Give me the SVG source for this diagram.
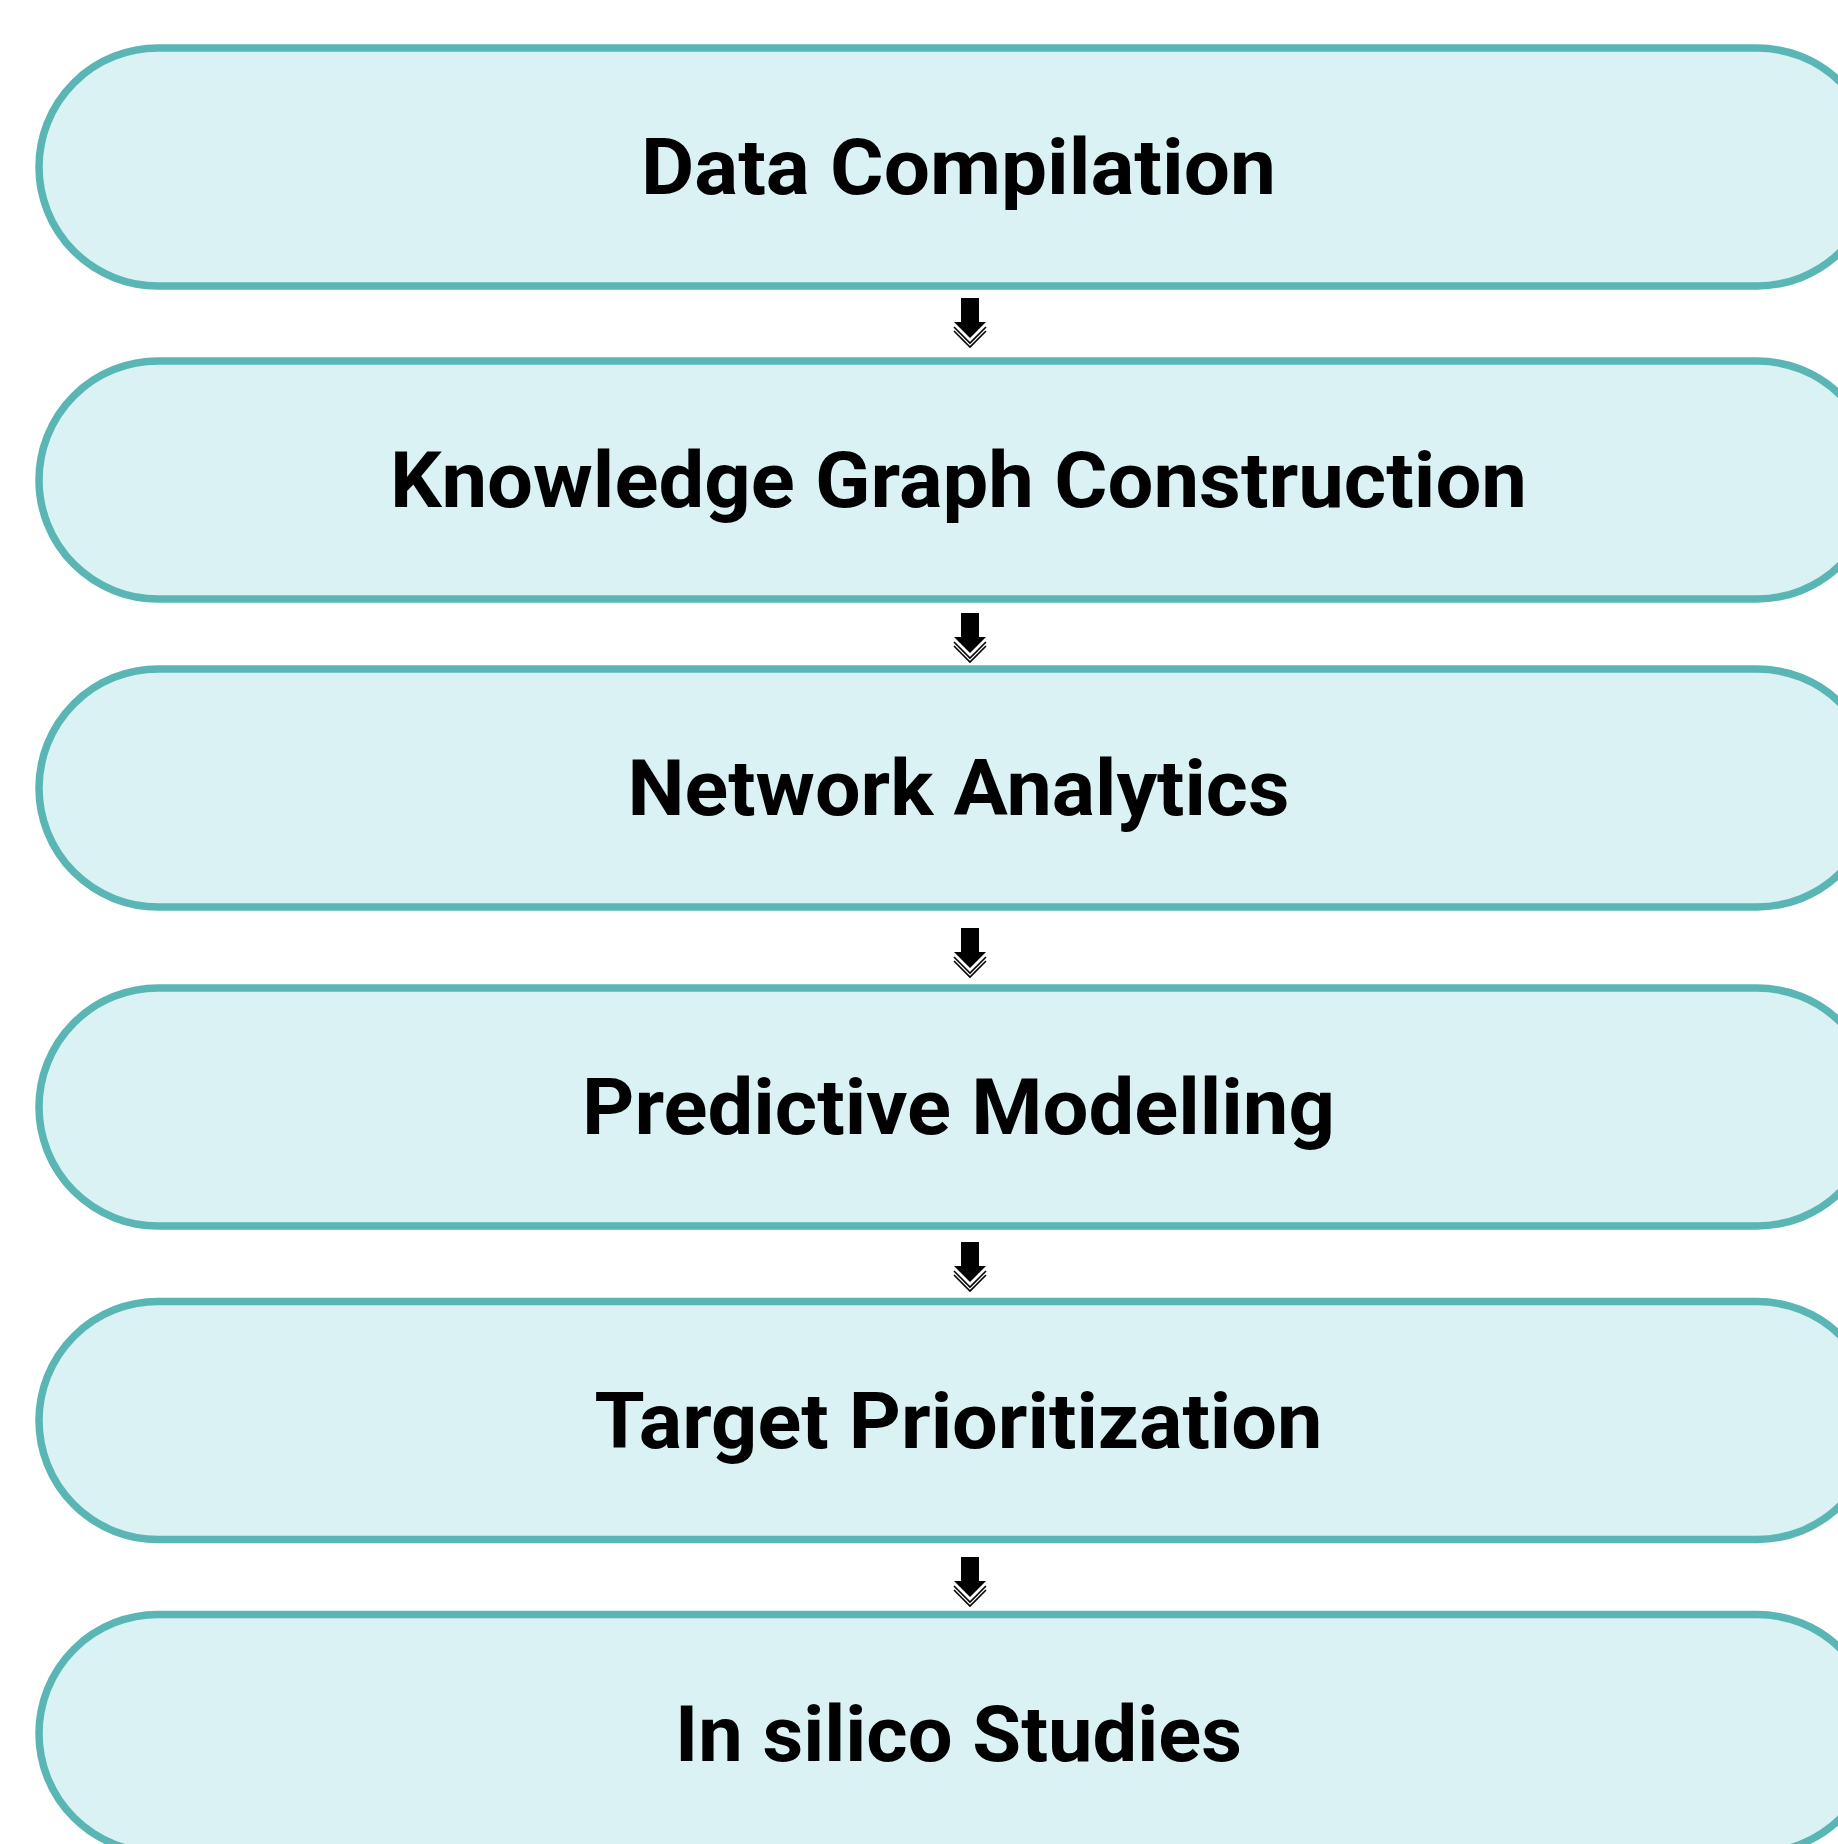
<svg xmlns="http://www.w3.org/2000/svg" width="1838" height="1844" viewBox="0 0 1838 1844">
<style>
.box{fill:#DAF2F3;stroke:#5AB6B4;stroke-width:7.5}
.lbl{font-family:Roboto,"Noto Sans","Liberation Sans",sans-serif;font-weight:700;font-size:78px;fill:#000;text-anchor:middle}
.chev{fill:none;stroke:#000;stroke-width:1.6}
</style>
<defs>
<g id="arrow">
<rect x="961" y="0" width="18" height="25" fill="#000"/>
<polygon points="954,24 986,24 970,40" fill="#000"/>
<polyline class="chev" points="954,29 970,45 986,29"/>
<polyline class="chev" points="954,33 970,49 986,33"/>
</g>
</defs>
<rect width="1838" height="1844" fill="#fff"/>
<g id="node1"><rect class="box" x="39" y="48" width="1837" height="238" rx="119"/><text class="lbl" x="958.5" y="194" textLength="635" lengthAdjust="spacingAndGlyphs">Data Compilation</text></g>
<g id="node2"><rect class="box" x="39" y="361" width="1837" height="238" rx="119"/><text class="lbl" x="958.5" y="507" textLength="1137" lengthAdjust="spacingAndGlyphs">Knowledge Graph Construction</text></g>
<g id="node3"><rect class="box" x="39" y="669" width="1837" height="238" rx="119"/><text class="lbl" x="958.5" y="815" textLength="662" lengthAdjust="spacingAndGlyphs">Network Analytics</text></g>
<g id="node4"><rect class="box" x="39" y="988" width="1837" height="238" rx="119"/><text class="lbl" x="958.5" y="1134" textLength="753" lengthAdjust="spacingAndGlyphs">Predictive Modelling</text></g>
<g id="node5"><rect class="box" x="39" y="1301.5" width="1837" height="238" rx="119"/><text class="lbl" x="958.5" y="1448" textLength="728" lengthAdjust="spacingAndGlyphs">Target Prioritization</text></g>
<g id="node6"><rect class="box" x="39" y="1614.5" width="1837" height="238" rx="119"/><text class="lbl" x="958.5" y="1761" textLength="567" lengthAdjust="spacingAndGlyphs">In silico Studies</text></g>
<g id="connectors">
<use href="#arrow" y="298"/>
<use href="#arrow" y="613"/>
<use href="#arrow" y="928"/>
<use href="#arrow" y="1242"/>
<use href="#arrow" y="1557"/>
</g>
</svg>
